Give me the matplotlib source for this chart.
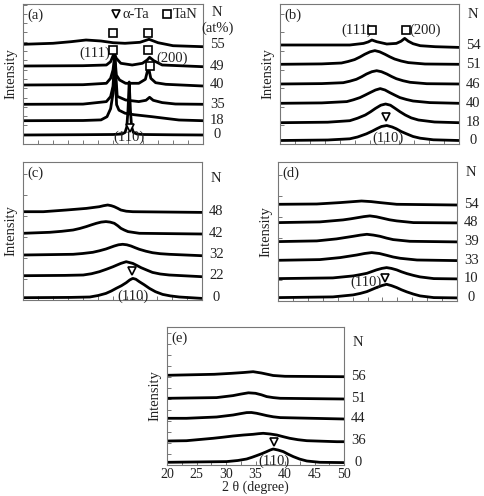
import matplotlib
matplotlib.use("Agg")
import matplotlib.pyplot as plt
from matplotlib.ticker import MultipleLocator, NullFormatter

plt.rcParams['font.family'] = ['Liberation Serif', 'DejaVu Serif']

W, H = 484, 496

# ---- panel (a) ----
a_N = ['0', '18', '35', '40', '49', '55']
a_base = [9, 23.3, 39.7, 59, 78, 99]
a_x = [
    [20, 30, 35, 36.5, 37.0, 37.3, 37.5, 37.7, 37.9, 38.1, 38.4, 39, 40, 45, 50],
    [20, 30, 33, 34, 34.6, 35.0, 35.3, 35.6, 36.0, 37.0, 38.5, 40, 41.5, 43.8, 46, 50],
    [20, 30, 33.9, 34.6, 35.0, 35.3, 35.7, 37.1, 39.3, 40.5, 41.1, 41.7, 43.2, 45.4, 50],
    [20, 30, 33.9, 34.6, 35.0, 35.3, 35.55, 36.1, 37.1, 39.3, 40.4, 40.9, 41.3, 42.1, 43.8, 50],
    [20, 30, 33.9, 34.6, 35.2, 35.55, 36.3, 38.2, 39.9, 40.7, 41.1, 41.8, 43.2, 50],
    [20, 25, 28, 30.5, 33, 35, 37, 39.5, 41, 42.5, 45, 50],
]
a_y = [
    [0, 0.3, 0.5, 1.0, 2.5, 8, 25, 53, 25, 8, 2.5, 1.0, 0.5, 0.2, 0],
    [0, 0.2, 0.8, 4, 12, 27, 58, 16, 10.5, 7.5, 6, 5, 4, 2.3, 0.7, 0],
    [0, 0.2, 2.7, 7.7, 18, 46, 8, 4.3, 2.7, 4, 7, 4, 1.7, 0.3, 0],
    [0, 0.3, 1.7, 6.7, 15, 30, 10, 5, 1.7, 1.7, 5.7, 18, 6.7, 2.3, 0.7, -1],
    [0, 0.3, 1, 4.3, 13, 7.7, 2.7, 1, 2.7, 6, 8.7, 5.3, 1, -0.7],
    [0.7, 1.7, 3.3, 5, 4, 2.3, 1.7, 2.7, 5.7, 2.3, -0.7, -1.7],
]

# ---- panel (b) ----
b_N = ['0', '18', '40', '46', '51', '54']
b_base = [3.5, 21.3, 40.7, 60, 79.7, 98.3]
b_x = [
    [20, 28, 31.7, 33, 34.5, 35.5, 36.2, 37, 37.9, 38.8, 39.5, 40.3, 41.2, 42.3, 43.5, 45.7, 50],
    [20, 28, 31.7, 33, 34.3, 35.2, 36.0, 36.9, 37.7, 38.5, 39.3, 40.1, 41.0, 42, 43.2, 45.9, 50],
    [20, 27, 31.2, 32.3, 33.4, 34.3, 35.1, 36, 36.8, 37.6, 38.4, 39.3, 40.1, 41.2, 42.3, 45.1, 50],
    [20, 27, 30.6, 31.7, 32.8, 33.7, 34.5, 35.4, 36.2, 37, 37.9, 38.7, 39.5, 40.6, 41.8, 44.6, 50],
    [20, 27, 30.3, 31.4, 32.5, 33.4, 34.2, 35.1, 35.9, 36.7, 37.6, 38.4, 39.2, 40.3, 41.5, 44.3, 50],
    [20, 31.7, 34, 34.8, 35.4, 36.2, 37.9, 39.5, 40.3, 40.9, 41.5, 42.3, 43.5, 46, 50],
]
b_y = [
    [0, 0.5, 1.7, 3.5, 6.7, 9.5, 11.7, 14, 15, 13.5, 11.7, 9, 6.7, 4, 2.3, 0.7, 0],
    [0, 0.5, 2, 4.5, 7.7, 11, 14.3, 17.5, 18.7, 17.5, 14.3, 11, 7.7, 4.8, 2.7, 0.7, 0],
    [0, 0.4, 1.7, 3.5, 5.7, 8.3, 10.7, 13.3, 14.7, 13.3, 10.7, 8, 5.7, 3.8, 2.3, 0.7, 0],
    [0, 0.4, 1.3, 2.8, 4.7, 7.3, 10, 12.3, 13.3, 12.3, 10, 7.5, 5.3, 3.3, 1.7, 0.3, 0],
    [0, 0.4, 1.3, 2.8, 4.7, 7.3, 10, 12.5, 13.7, 12.5, 10, 7.5, 5.3, 3.3, 1.7, 0.3, 0],
    [0.7, 0.7, 2.3, 3.8, 5.7, 4, 1.7, 2.3, 4.5, 7.3, 4.5, 2, 0, -1, -1.7],
]

# ---- panel (c) ----
c_N = ['0', '22', '32', '42', '48']
c_base = [2.3, 24.3, 45, 66.7, 88.3]
c_x = [
    [20, 28, 31.2, 32.6, 33.9, 34.8, 35.6, 36.5, 37.3, 37.9, 38.4, 38.9, 39.5, 40.3, 41.2, 42.2, 43.4, 44.7, 46.2, 50],
    [20, 27, 30.1, 31.5, 32.8, 34, 35.1, 35.8, 36.4, 37.3, 38.4, 39.1, 39.8, 40.8, 41.7, 43, 44.5, 50],
    [20, 28.4, 30, 31.7, 32.8, 33.9, 34.6, 35.3, 36, 36.7, 37.4, 38.1, 38.8, 39.5, 40.6, 41.7, 43, 44.5, 50],
    [20, 24.5, 26.5, 28.4, 29.5, 30.6, 31.5, 32.3, 33.1, 33.9, 34.6, 35.3, 35.9, 36.4, 37, 37.6, 39.5, 50],
    [20, 23.4, 27.3, 30.6, 32.8, 33.5, 34.2, 34.8, 35.3, 35.9, 36.4, 37.3, 38.4, 50],
]
c_y = [
    [0, 0.3, 0.7, 2.2, 4.3, 6.7, 9.3, 12, 15, 17.8, 19.3, 18.5, 16, 13, 9.3, 6, 3.3, 1.8, 0.7, -0.7],
    [0, 0.3, 0.7, 2, 4, 6.5, 9, 10.8, 12.3, 14, 12.3, 10.2, 8, 5.5, 3.3, 1.7, 0.7, -1],
    [0, 0.7, 1.5, 2.7, 4.2, 6, 7.5, 9, 10.2, 10.7, 10.2, 9, 7.3, 5.7, 3.8, 2.3, 1.3, 0.7, -0.7],
    [0, 1, 2, 3.3, 4.8, 6.7, 8.5, 10, 11.2, 11.7, 11.2, 10, 7.5, 5, 3.2, 1.7, 0, -0.7],
    [0, 0, 1.7, 3.3, 5, 6, 6.7, 6, 5, 3.3, 1.7, 0.5, 0, -0.7],
]

# ---- panel (d) ----
d_N = ['0', '10', '33', '39', '48', '54']
d_base = [3.4, 22.4, 40.7, 59.4, 78.4, 96.7]
d_x = [
    [20, 29.2, 32.6, 33.8, 34.9, 35.7, 36.5, 37.4, 38.2, 39.0, 39.9, 40.7, 41.6, 42.7, 43.8, 46.1, 50],
    [20, 29.2, 32.6, 33.8, 34.9, 35.7, 36.5, 37.4, 38.2, 39.0, 39.9, 40.7, 41.6, 42.7, 43.8, 46.1, 50],
    [20, 27, 30.4, 31.8, 33.2, 34.5, 35.7, 37, 38.2, 39.3, 40.5, 43.3, 50],
    [20, 26.5, 29.8, 31.2, 32.6, 33.8, 34.9, 36, 37.1, 38.2, 39.3, 42.1, 50],
    [20, 27, 30.9, 32.2, 33.4, 34.4, 35.4, 36.5, 37.6, 38.7, 39.9, 42.7, 50],
    [20, 26.5, 30.4, 32.2, 34.0, 35.6, 37.1, 39.9, 50],
]
d_y = [
    [0, 0.7, 2.7, 4.2, 6, 8, 10, 12, 13.3, 12, 10, 7.8, 5.7, 3.5, 1.7, 0, -0.3],
    [0, 0.7, 2.7, 4, 5.3, 7, 8.7, 10.2, 11, 10.2, 8.7, 6.8, 5, 3.2, 1.7, 0, -0.3],
    [0, 0.7, 2.7, 4, 5.3, 6.8, 7.7, 6.8, 5, 3.3, 2, 0.3, -0.3],
    [0, 0.7, 2.7, 4, 5.3, 6.5, 7.3, 6.5, 5.3, 3.5, 2, 0.3, -0.3],
    [0, 0.7, 2.7, 3.8, 5, 6, 6.7, 5.8, 4.3, 2.8, 1.7, 0, -0.3],
    [0, 0.3, 1.7, 2.5, 3.3, 2.7, 1.7, 0, -0.7],
]

# ---- panel (e) ----
e_N = ['0', '36', '44', '51', '56']
e_base = [2.7, 24, 46.7, 66.7, 89]
e_x = [
    [20, 30.1, 32, 33.5, 34.4, 35.2, 36.1, 36.9, 37.5, 38.0, 38.8, 39.7, 40.5, 41.4, 42.5, 43.7, 45.9, 50],
    [20, 23.3, 27.8, 29.5, 31.2, 33, 34.6, 35.5, 36.3, 37.5, 38.6, 39.7, 40.8, 42.2, 43.7, 48.8, 50],
    [20, 23.3, 28.4, 31.2, 32.5, 33.5, 34.3, 35.2, 36.1, 36.9, 38, 39.2, 50],
    [20, 28.4, 31.2, 32.5, 33.8, 35, 36, 36.9, 38, 39.2, 50],
    [20, 28, 31, 33, 34.6, 36, 38, 40, 50],
]
e_y = [
    [0, 0.7, 1.8, 3.3, 5, 6.7, 8.7, 10.7, 12.3, 13.3, 12.3, 10.7, 8.2, 5.7, 3.2, 1.3, 0, -0.3],
    [0, 0.3, 2.7, 3.8, 5, 6, 6.7, 7.3, 7.7, 7, 6, 4.3, 2.7, 1.3, 0.3, -0.7, -0.7],
    [0, 0, 1.3, 3.3, 4.7, 5.7, 5.8, 5, 3.8, 2.7, 1.5, 0.7, -0.7],
    [0, 0.7, 2.7, 4.2, 5.5, 5, 3.5, 1.7, 0.7, 0, -0.7],
    [0.7, 1.7, 2.7, 3.5, 4.3, 3, 0.5, -0.3, -0.7],
]

fig = plt.figure(figsize=(W / 100, H / 100), dpi=100)

GREY = '#777777'
TXT = '#222222'
FS = 10.5


def make_panel(box, letter, xs, ys, bases, labels, ytick_step, xlabels=False):
    x0, y0, x1, y1 = box
    ax = fig.add_axes([x0 / W, 1 - y1 / H, (x1 - x0) / W, (y1 - y0) / H])
    for xx, yy, b in zip(xs, ys, bases):
        ax.plot(xx, [v + b for v in yy], color='black', lw=2.0, solid_joinstyle='round')
    ax.set_xlim(20, 50)
    ax.set_ylim(0, y1 - y0)
    for s in ax.spines.values():
        s.set_color(GREY)
        s.set_linewidth(0.8)
    ax.yaxis.set_major_locator(MultipleLocator(ytick_step))
    ax.yaxis.set_major_formatter(NullFormatter())
    if xlabels:
        ax.xaxis.set_major_locator(MultipleLocator(5))
        ax.xaxis.set_minor_locator(MultipleLocator(2.5))
        ax.set_xlabel('2 θ (degree)', fontsize=10, color=TXT, labelpad=0)
    else:
        ax.xaxis.set_major_locator(MultipleLocator(2.5))
        ax.xaxis.set_major_formatter(NullFormatter())
    ax.tick_params(which='both', direction='in', length=3, width=0.7, color=GREY,
                   labelsize=10, labelcolor=TXT, pad=2)
    ax.text(0.025, 0.92, letter, transform=ax.transAxes, fontsize=FS, color=TXT, va='center')
    # sample labels on the right
    for lab, b in zip(labels, bases):
        ax.text(52.4, b, lab, fontsize=FS, color=TXT, ha='center', va='center', clip_on=False)
    ax.set_ylabel('Intensity', fontsize=FS, color=TXT)
    ax.yaxis.set_label_coords(-6 / (x1 - x0), 0.5)
    return ax


def sq(ax, x, y):
    ax.plot(x, y, 's', ms=5.5, mfc='white', mec='black', mew=1.2, zorder=5, clip_on=False)


def tri(ax, x, y):
    ax.plot(x, y, 'v', ms=6, mfc='white', mec='black', mew=1.2, zorder=5, clip_on=False)


axa = make_panel((23, 4, 203, 144), '(a)', a_x, a_y, a_base, a_N, 9.3)
axb = make_panel((280, 4, 459, 144), '(b)', b_x, b_y, b_base, b_N, 18.6)
axc = make_panel((23, 162, 202, 300), '(c)', c_x, c_y, c_base, c_N, 21)
axd = make_panel((278, 162, 457, 301), '(d)', d_x, d_y, d_base, d_N, 21)
axe = make_panel((167, 327, 344, 465), '(e)', e_x, e_y, e_base, e_N, 11, xlabels=True)

# N headers
axa.text(52.4, 131, 'N', fontsize=FS, color=TXT, ha='center', va='center', clip_on=False)
axa.text(52.4, 116, '(at%)', fontsize=FS, color=TXT, ha='center', va='center', clip_on=False)
axb.text(52.4, 129, 'N', fontsize=FS, color=TXT, ha='center', va='center', clip_on=False)
axc.text(52.4, 122, 'N', fontsize=FS, color=TXT, ha='center', va='center', clip_on=False)
axd.text(52.4, 128, 'N', fontsize=FS, color=TXT, ha='center', va='center', clip_on=False)
axe.text(52.4, 123, 'N', fontsize=FS, color=TXT, ha='center', va='center', clip_on=False)

# panel (a) annotations
tri(axa, 35.5, 129.7)
axa.text(36.6, 129.7, 'α-Ta', fontsize=FS, color=TXT, va='center')
sq(axa, 43.95, 129.7)
axa.text(45.0, 129.7, 'TaN', fontsize=FS, color=TXT, va='center')
for x, y in [(35.0, 110.7), (40.9, 110.7), (35.0, 94), (40.9, 94), (41.2, 78.3)]:
    sq(axa, x, y)
tri(axa, 37.8, 16.3)
axa.text(34.5, 91, '(111)', fontsize=FS, color=TXT, ha='right', va='center')
axa.text(42.2, 86, '(200)', fontsize=FS, color=TXT, ha='left', va='center')
axa.text(37.7, 6.5, '(110)', fontsize=FS, color=TXT, ha='center', va='center')

# panel (b)
axb.text(35.4, 114, '(111)', fontsize=FS, color=TXT, ha='right', va='center', zorder=4)
sq(axb, 35.5, 114)
sq(axb, 41.2, 114)
axb.text(41.6, 114, '(200)', fontsize=FS, color=TXT, ha='left', va='center')
tri(axb, 37.7, 26.7)
axb.text(38.1, 5.7, '(110)', fontsize=FS, color=TXT, ha='center', va='center')

# panel (c)
tri(axc, 38.3, 29.3)
axc.text(38.4, 3.7, '(110)', fontsize=FS, color=TXT, ha='center', va='center')

# panel (d)
tri(axd, 38.0, 23.4)
axd.text(37.4, 18.4, '(110)', fontsize=FS, color=TXT, ha='right', va='center')

# panel (e)
tri(axe, 38.1, 22.7)
axe.text(38.1, 4, '(110)', fontsize=FS, color=TXT, ha='center', va='center')

fig.savefig('out.png', dpi=100)
